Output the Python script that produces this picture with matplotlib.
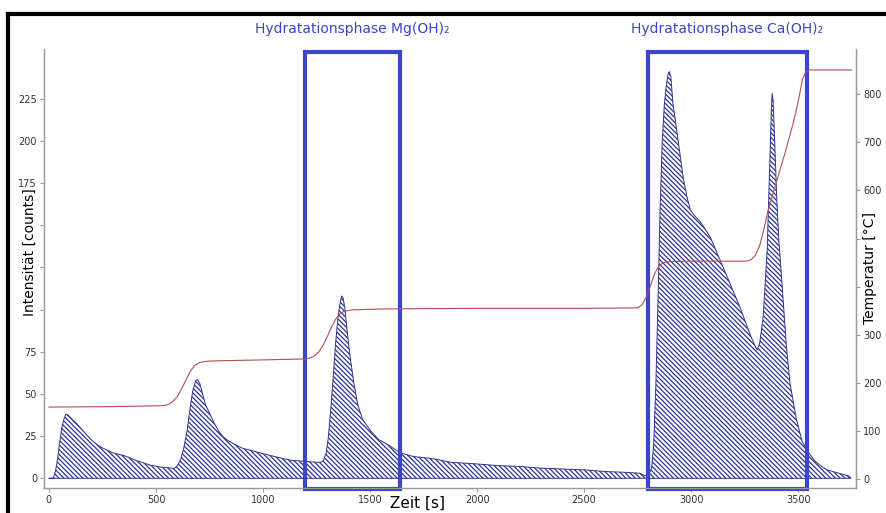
import matplotlib.pyplot as plt
from matplotlib.patches import Rectangle
from matplotlib.lines import Line2D

# intensity signal (time in s, counts)
t_int = [0, 20, 30, 40, 50, 60, 70, 79, 90, 100, 125, 150, 175, 196, 225, 250,
         300, 350, 420, 476, 530, 585, 600, 615, 630, 645, 660, 672, 686, 695,
         705, 718, 730, 745, 756, 775, 795, 815, 835, 870, 900, 974, 1050, 1129,
         1200, 1250, 1270, 1282, 1295, 1305, 1316, 1328, 1339, 1350, 1360, 1367,
         1374, 1382, 1395, 1409, 1425, 1442, 1465, 1503, 1540, 1582, 1643,
         1700, 1800, 1876, 2000, 2100, 2200, 2300, 2400, 2500, 2600, 2700, 2760,
         2785, 2800, 2815, 2825, 2835, 2845, 2855, 2865, 2875, 2885, 2893, 2898,
         2905, 2915, 2935, 2963, 2980, 2996, 3020, 3043, 3089, 3136, 3183, 3229,
         3276, 3300, 3308, 3320, 3336, 3355, 3369, 3375, 3378, 3383, 3390, 3400,
         3410, 3420, 3430, 3445, 3462, 3490, 3518, 3550, 3580, 3610, 3635, 3690,
         3733, 3745]
counts = [0, 0, 4, 11, 21, 30, 35, 38, 37.5, 36, 33, 29.5, 26, 23, 20, 18,
          15, 13.5, 10, 7.7, 6.5, 5.9, 7.5, 11, 18, 28, 42, 52, 58, 58.5,
          56, 50, 44, 40, 37, 32, 27.5, 24.5, 22.5, 20, 18, 15.5, 13, 10.7,
          10, 9.5, 9.5, 10.5, 15, 24, 40, 60, 80, 95, 104, 108,
          107, 101, 85, 70, 56, 44, 35, 28, 23, 20, 15,
          13, 11.5, 9.5, 8.5, 7.5, 7, 6, 5.5, 5, 4, 3.5, 3,
          1.5, 1.5, 6, 20, 55, 105, 160, 200, 222, 234, 240, 241,
          238, 222, 204, 178, 167, 159, 155, 152, 143, 129, 115, 101,
          85, 78, 76, 80, 95, 135, 194, 220, 228, 224, 200, 165,
          140, 123, 105, 78, 56, 36, 22, 15, 10, 7, 5, 3,
          1.5, 0.5]

# temperature curve (time in s, degC)
t_temp = [0, 300, 540, 560, 580, 600, 620, 640, 660, 680, 700, 730, 780, 1000,
          1200, 1220, 1240, 1260, 1280, 1300, 1320, 1340, 1360, 1380, 1420,
          1600, 2000, 2500, 2750, 2770, 2790, 2810, 2830, 2850, 2870, 2900,
          3000, 3260, 3280, 3300, 3320, 3340, 3360, 3400, 3440, 3480, 3500,
          3520, 3535, 3550, 3750]
temp = [150, 151, 153, 156, 162, 172, 188, 206, 224, 236, 242, 245, 246, 248,
        250, 252, 256, 264, 278, 296, 316, 333, 344, 349, 352,
        354, 355, 355, 356, 362, 378, 402, 428, 443, 450, 452,
        453, 453, 456, 465, 485, 520, 560, 620, 680, 745, 785,
        830, 846, 850, 850]

phase_names = ["Hydratationsphase Mg(OH)\u2082", "Hydratationsphase Ca(OH)\u2082"]
phase_ranges = [(1196, 1640), (2798, 3541)]

left_ticks = [0, 25, 50, 75, 100, 125, 150, 175, 200, 225]
left_labels = ["0", "25", "50", "75", "", "", "", "175", "200", "225"]
right_ticks = [0, 100, 200, 300, 400, 500, 600, 700, 800]
right_labels = ["0", "100", "200", "300", "", "", "600", "700", "800"]
x_ticks = [0, 500, 1000, 1500, 2000, 2500, 3000, 3500]

plt.rcParams['hatch.linewidth'] = 0.9
box_color = '#3B44CC'
navy = '#2F3390'
grey = '#9A9A9A'

fig = plt.figure(figsize=(8.86, 5.13), dpi=100)
ax = fig.add_axes([44/886, 1-488/513, (856-44)/886, (488-49)/513])
ax.fill_between(t_int, counts, 0, facecolor='none', edgecolor=navy,
                hatch='\\' * 7, linewidth=0.7)
ax.set_xlim(-23, 3770)
ax.set_ylim(-5.75, 254.4)
ax.set_xticks(x_ticks)
ax.set_yticks(left_ticks)
ax.set_yticklabels(left_labels)

ax2 = ax.twinx()
ax2.plot(t_temp, temp, color='#B5504F', linewidth=0.8)
ax2.set_ylim(-18, 893.5)
ax2.set_yticks(right_ticks)
ax2.set_yticklabels(right_labels)

for a in (ax, ax2):
    for s in a.spines.values():
        s.set_color(grey)
        s.set_linewidth(0.9)
    a.spines['top'].set_visible(False)
    a.tick_params(direction='out', length=3, width=0.8, color=grey,
                  labelsize=7, labelcolor='#333333', pad=2)

fig.text(418/886, 1-503/513, "Zeit [s]", ha='center', va='center', fontsize=11)
fig.text(30/886, 1-252/513, "Intensität [counts]", ha='center', va='center',
         rotation=90, fontsize=10)
fig.text(870/886, 1-268/513, "Temperatur [°C]", ha='center', va='center',
         rotation=90, fontsize=10)

# phase boxes and titles
for name, (t0, t1) in zip(phase_names, phase_ranges):
    ax.add_patch(Rectangle((t0, -6.3), t1 - t0, 252.8 + 6.3, fill=False,
                           edgecolor=box_color, linewidth=3, clip_on=False,
                           zorder=5))
    ax.text((t0 + t1) / 2, 266, name, ha='center', va='center', fontsize=10,
            color=box_color, clip_on=False)

# black frame at top and left
fig.add_artist(Line2D([8/886, 1], [1-14/513, 1-14/513], color='black', linewidth=3,
                      transform=fig.transFigure))
fig.add_artist(Line2D([8/886, 8/886], [0, 1-14/513], color='black', linewidth=3,
                      transform=fig.transFigure))

fig.savefig("out.png", dpi=100)
